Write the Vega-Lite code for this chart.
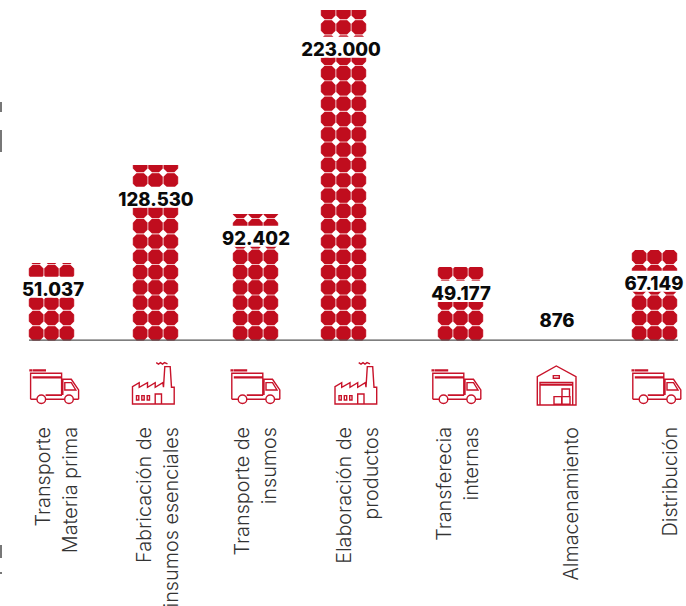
{"$schema":"https://vega.github.io/schema/vega-lite/v6.json","width":686,"height":606,"padding":0,"autosize":"none","background":"white","config":{"view":{"stroke":null}},
"datasets":{"cats":[
{"slot":1,"name":"Transporte\nMateria prima","label":"51.037","icon":"truck","top":4.59,"labelRow":2.9},
{"slot":2,"name":"Fabricación de\ninsumos esenciales","label":"128.530","icon":"factory","top":11,"labelRow":8.78},
{"slot":3,"name":"Transporte de\ninsumos","label":"92.402","icon":"truck","top":7.8,"labelRow":6.23},
{"slot":4,"name":"Elaboración de\nproductos","label":"223.000","icon":"factory","top":21.13,"labelRow":18.58},
{"slot":5,"name":"Transferecia\ninternas","label":"49.177","icon":"truck","top":4.33,"labelRow":2.63},
{"slot":6,"name":"Almacenamiento","label":"876","icon":"warehouse","top":0,"labelRow":0.87},
{"slot":7,"name":"Distribución","label":"67.149","icon":"truck","top":5.45,"labelRow":3.29}],
"dots":[
{"slot":1,"col":1,"row":0},{"slot":1,"col":2,"row":0},{"slot":1,"col":3,"row":0},{"slot":1,"col":1,"row":1},{"slot":1,"col":2,"row":1},{"slot":1,"col":3,"row":1},{"slot":1,"col":1,"row":2},{"slot":1,"col":2,"row":2},{"slot":1,"col":3,"row":2},{"slot":1,"col":1,"row":3},{"slot":1,"col":2,"row":3},{"slot":1,"col":3,"row":3},{"slot":1,"col":1,"row":4},{"slot":1,"col":2,"row":4},{"slot":1,"col":3,"row":4},{"slot":1,"col":1,"row":5},{"slot":1,"col":2,"row":5},{"slot":1,"col":3,"row":5},
{"slot":2,"col":1,"row":0},{"slot":2,"col":2,"row":0},{"slot":2,"col":3,"row":0},{"slot":2,"col":1,"row":1},{"slot":2,"col":2,"row":1},{"slot":2,"col":3,"row":1},{"slot":2,"col":1,"row":2},{"slot":2,"col":2,"row":2},{"slot":2,"col":3,"row":2},{"slot":2,"col":1,"row":3},{"slot":2,"col":2,"row":3},{"slot":2,"col":3,"row":3},{"slot":2,"col":1,"row":4},{"slot":2,"col":2,"row":4},{"slot":2,"col":3,"row":4},{"slot":2,"col":1,"row":5},{"slot":2,"col":2,"row":5},{"slot":2,"col":3,"row":5},{"slot":2,"col":1,"row":6},{"slot":2,"col":2,"row":6},{"slot":2,"col":3,"row":6},{"slot":2,"col":1,"row":7},{"slot":2,"col":2,"row":7},{"slot":2,"col":3,"row":7},{"slot":2,"col":1,"row":8},{"slot":2,"col":2,"row":8},{"slot":2,"col":3,"row":8},{"slot":2,"col":1,"row":9},{"slot":2,"col":2,"row":9},{"slot":2,"col":3,"row":9},{"slot":2,"col":1,"row":10},{"slot":2,"col":2,"row":10},{"slot":2,"col":3,"row":10},{"slot":2,"col":1,"row":11},{"slot":2,"col":2,"row":11},{"slot":2,"col":3,"row":11},
{"slot":3,"col":1,"row":0},{"slot":3,"col":2,"row":0},{"slot":3,"col":3,"row":0},{"slot":3,"col":1,"row":1},{"slot":3,"col":2,"row":1},{"slot":3,"col":3,"row":1},{"slot":3,"col":1,"row":2},{"slot":3,"col":2,"row":2},{"slot":3,"col":3,"row":2},{"slot":3,"col":1,"row":3},{"slot":3,"col":2,"row":3},{"slot":3,"col":3,"row":3},{"slot":3,"col":1,"row":4},{"slot":3,"col":2,"row":4},{"slot":3,"col":3,"row":4},{"slot":3,"col":1,"row":5},{"slot":3,"col":2,"row":5},{"slot":3,"col":3,"row":5},{"slot":3,"col":1,"row":6},{"slot":3,"col":2,"row":6},{"slot":3,"col":3,"row":6},{"slot":3,"col":1,"row":7},{"slot":3,"col":2,"row":7},{"slot":3,"col":3,"row":7},{"slot":3,"col":1,"row":8},{"slot":3,"col":2,"row":8},{"slot":3,"col":3,"row":8},
{"slot":4,"col":1,"row":0},{"slot":4,"col":2,"row":0},{"slot":4,"col":3,"row":0},{"slot":4,"col":1,"row":1},{"slot":4,"col":2,"row":1},{"slot":4,"col":3,"row":1},{"slot":4,"col":1,"row":2},{"slot":4,"col":2,"row":2},{"slot":4,"col":3,"row":2},{"slot":4,"col":1,"row":3},{"slot":4,"col":2,"row":3},{"slot":4,"col":3,"row":3},{"slot":4,"col":1,"row":4},{"slot":4,"col":2,"row":4},{"slot":4,"col":3,"row":4},{"slot":4,"col":1,"row":5},{"slot":4,"col":2,"row":5},{"slot":4,"col":3,"row":5},{"slot":4,"col":1,"row":6},{"slot":4,"col":2,"row":6},{"slot":4,"col":3,"row":6},{"slot":4,"col":1,"row":7},{"slot":4,"col":2,"row":7},{"slot":4,"col":3,"row":7},{"slot":4,"col":1,"row":8},{"slot":4,"col":2,"row":8},{"slot":4,"col":3,"row":8},{"slot":4,"col":1,"row":9},{"slot":4,"col":2,"row":9},{"slot":4,"col":3,"row":9},{"slot":4,"col":1,"row":10},{"slot":4,"col":2,"row":10},{"slot":4,"col":3,"row":10},{"slot":4,"col":1,"row":11},{"slot":4,"col":2,"row":11},{"slot":4,"col":3,"row":11},{"slot":4,"col":1,"row":12},{"slot":4,"col":2,"row":12},{"slot":4,"col":3,"row":12},{"slot":4,"col":1,"row":13},{"slot":4,"col":2,"row":13},{"slot":4,"col":3,"row":13},{"slot":4,"col":1,"row":14},{"slot":4,"col":2,"row":14},{"slot":4,"col":3,"row":14},{"slot":4,"col":1,"row":15},{"slot":4,"col":2,"row":15},{"slot":4,"col":3,"row":15},{"slot":4,"col":1,"row":16},{"slot":4,"col":2,"row":16},{"slot":4,"col":3,"row":16},{"slot":4,"col":1,"row":17},{"slot":4,"col":2,"row":17},{"slot":4,"col":3,"row":17},{"slot":4,"col":1,"row":18},{"slot":4,"col":2,"row":18},{"slot":4,"col":3,"row":18},{"slot":4,"col":1,"row":19},{"slot":4,"col":2,"row":19},{"slot":4,"col":3,"row":19},{"slot":4,"col":1,"row":20},{"slot":4,"col":2,"row":20},{"slot":4,"col":3,"row":20},{"slot":4,"col":1,"row":21},{"slot":4,"col":2,"row":21},{"slot":4,"col":3,"row":21},
{"slot":5,"col":1,"row":0},{"slot":5,"col":2,"row":0},{"slot":5,"col":3,"row":0},{"slot":5,"col":1,"row":1},{"slot":5,"col":2,"row":1},{"slot":5,"col":3,"row":1},{"slot":5,"col":1,"row":2},{"slot":5,"col":2,"row":2},{"slot":5,"col":3,"row":2},{"slot":5,"col":1,"row":3},{"slot":5,"col":2,"row":3},{"slot":5,"col":3,"row":3},{"slot":5,"col":1,"row":4},{"slot":5,"col":2,"row":4},{"slot":5,"col":3,"row":4},
{"slot":7,"col":1,"row":0},{"slot":7,"col":2,"row":0},{"slot":7,"col":3,"row":0},{"slot":7,"col":1,"row":1},{"slot":7,"col":2,"row":1},{"slot":7,"col":3,"row":1},{"slot":7,"col":1,"row":2},{"slot":7,"col":2,"row":2},{"slot":7,"col":3,"row":2},{"slot":7,"col":1,"row":3},{"slot":7,"col":2,"row":3},{"slot":7,"col":3,"row":3},{"slot":7,"col":1,"row":4},{"slot":7,"col":2,"row":4},{"slot":7,"col":3,"row":4},{"slot":7,"col":1,"row":5},{"slot":7,"col":2,"row":5},{"slot":7,"col":3,"row":5}]},
"resolve":{"scale":{"x":"independent"}},
"layer":[
{"data":{"name":"dots"},"transform":[{"calculate":"datum.slot*10+datum.col","as":"cell"}],"mark":{"type":"point","filled":true,"opacity":1,"size":4,"color":"#eeb0b5","strokeWidth":0,"shape":"M-7.8,-3.5H-3.5V-7.8H3.5V-3.5H7.8V3.5H3.5V7.8H-3.5V3.5H-7.8Z"},
"encoding":{"x":{"field":"cell","type":"quantitative","axis":null,"scale":{"domain":[11,12,13,21,22,23,31,32,33,41,42,43,51,52,53,71,72,73],"range":[36.2,51.5,66.8,140.2,155.5,170.8,240.2,255.5,270.8,328.2,343.5,358.8,445.2,460.5,475.8,639.2,654.5,669.8],"zero":false,"nice":false}},"y":{"field":"row","type":"quantitative","axis":null,"scale":{"domain":[-17.82,21.78],"nice":false,"zero":false}}}},
{"data":{"name":"dots"},"transform":[{"calculate":"datum.slot*10+datum.col","as":"cell"}],"mark":{"type":"point","filled":true,"opacity":1,"size":4,"color":"#c00d1e","strokeWidth":0,"shape":"M-3.8,-7.1H3.8L7.1,-3.8V3.8L3.8,7.1H-3.8L-7.1,3.8V-3.8Z"},
"encoding":{"x":{"field":"cell","type":"quantitative","axis":null,"scale":{"domain":[11,12,13,21,22,23,31,32,33,41,42,43,51,52,53,71,72,73],"range":[36.2,51.5,66.8,140.2,155.5,170.8,240.2,255.5,270.8,328.2,343.5,358.8,445.2,460.5,475.8,639.2,654.5,669.8],"zero":false,"nice":false}},"y":{"field":"row","type":"quantitative"}}},
{"data":{"name":"cats"},"mark":{"type":"bar","size":50,"color":"white","orient":"vertical"},"encoding":{"x":{"field":"slot","type":"quantitative","axis":null,"scale":{"domain":[0,1,2,3,4,5,6,7,8],"range":[29,51.5,155.5,255.5,343.5,460.5,557,654.5,678],"zero":false,"nice":false}},"y":{"field":"top","type":"quantitative"},"y2":{"datum":30}}},
{"data":{"name":"cats"},"transform":[{"calculate":"datum.labelRow+0.8","as":"bandTop"},{"calculate":"datum.labelRow-0.58","as":"bandBottom"}],"mark":{"type":"bar","size":50,"color":"white","orient":"vertical"},"encoding":{"x":{"field":"slot","type":"quantitative","axis":null,"scale":{"domain":[0,1,2,3,4,5,6,7,8],"range":[29,51.5,155.5,255.5,343.5,460.5,557,654.5,678],"zero":false,"nice":false}},"y":{"field":"bandTop","type":"quantitative"},"y2":{"field":"bandBottom"}}},
{"data":{"values":[{"from":0,"to":8,"level":-0.44}]},"mark":{"type":"rule","color":"#555555","strokeWidth":1.2},"encoding":{"x":{"field":"from","type":"quantitative","axis":null,"scale":{"domain":[0,1,2,3,4,5,6,7,8],"range":[29,51.5,155.5,255.5,343.5,460.5,557,654.5,678],"zero":false,"nice":false}},"x2":{"field":"to"},"y":{"field":"level","type":"quantitative"}}},
{"data":{"values":[{"edge":0,"a":15.12,"b":14.46},{"edge":0,"a":13.29,"b":11.85},{"edge":0,"a":-13.83,"b":-14.68},{"edge":0,"a":-15.6,"b":-15.73}]},"mark":{"type":"rule","color":"#777777","strokeWidth":2},"encoding":{"x":{"field":"edge","type":"quantitative","axis":null,"scale":{"domain":[0,1],"range":[1,2],"zero":false,"nice":false}},"y":{"field":"a","type":"quantitative"},"y2":{"field":"b"}}},
{"data":{"name":"cats"},"mark":{"type":"text","font":"Inter","fontWeight":800,"fontSize":18.5,"dy":1,"stroke":"white","strokeWidth":3,"strokeJoin":"round","fill":"white"},"encoding":{"x":{"field":"slot","type":"quantitative","axis":null,"scale":{"domain":[1,2,3,4,5,6,7],"range":[53,156,256,341,461,557,654],"zero":false,"nice":false}},"y":{"field":"labelRow","type":"quantitative"},"text":{"field":"label"}}},
{"data":{"name":"cats"},"mark":{"type":"text","font":"Inter","fontWeight":800,"fontSize":18.5,"dy":1,"color":"#0a0a0a"},"encoding":{"x":{"field":"slot","type":"quantitative","axis":null,"scale":{"domain":[1,2,3,4,5,6,7],"range":[53,156,256,341,461,557,654],"zero":false,"nice":false}},"y":{"field":"labelRow","type":"quantitative"},"text":{"field":"label"}}},
{"data":{"name":"cats"},"transform":[{"calculate":"-3.44","as":"iconRow"}],"mark":{"type":"point","filled":false,"opacity":1,"size":4,"strokeWidth":1.4,"color":"#c8132a"},"encoding":{"x":{"field":"slot","type":"quantitative","axis":null,"scale":{"domain":[1,2,3,4,5,6,7],"range":[54.3,153.5,255.5,356,456.5,556.5,656.5],"zero":false,"nice":false}},"y":{"field":"iconRow","type":"quantitative"},"shape":{"field":"icon","type":"nominal","legend":null,"scale":{"domain":["truck","factory","warehouse"],"range":[
"M-24.3,-16h1.5v.8h-1.5zM-21,-16h12v.8h-12zM-8.7,13.3A4.3,4.3 0 1 1 -17.3,13.3A4.3,4.3 0 1 1 -8.7,13.3ZM19,13.3A4.3,4.3 0 1 1 10.4,13.3A4.3,4.3 0 1 1 19,13.3ZM-23.7,13.3V-12.7H7.3V9M-23.7,13.3H-17.3M-8.7,13.3H10.4M19,13.3H24.3M-21,-9H7v.8H-21zM-8,9H7v.4H-8zM8.5,9V-6.7H17L24.3,4V13.3M10.5,-3.3H17L21.5,4H10.5Z",
"M-21,18V.7L-14.3,-3.3V1.3L-6,-3.3V1.3L1.7,-3.3V1.3L9.3,-3.3L10,1.3L11.3,-19.3H16.7L18,1.3H20.7V18ZM1.7,18V8H8V18M-17,9.7h2.3v4.3h-2.3zM-11.7,9.7h2.4v4.3h-2.4zM-6.3,9.7h2.3v4.3h-2.3zM2.7,-23.3L5,-21.8L7,-23.3L9,-21.8L11,-23.3L14,-22",
"M-19.2,19V-9.3L-.2,-20L19.5,-9.3V19ZM-16.5,19V-3.5H16.2V19M-15.5,-1.5H15.5V-.8H-15.5zM-3.2,-10.3H2.8V-7.7H-3.2ZM-2.5,10.7H5.2V18.3H-2.5ZM5.5,10.7H13.5V18.3H5.5ZM5.5,3H13V10.7H5.5Z"]}}}},
{"data":{"name":"cats"},"transform":[{"calculate":"-6.12","as":"nameRow"}],"mark":{"type":"text","font":"Inter","fontWeight":300,"fontSize":19.8,"angle":270,"align":"right","baseline":"middle","lineBreak":"\n","lineHeight":27,"color":"#333333"},"encoding":{"x":{"field":"slot","type":"quantitative","axis":null,"scale":{"domain":[1,2,3,4,5,6,7],"range":[44,144.5,242.5,345,445,572,671],"zero":false,"nice":false}},"y":{"field":"nameRow","type":"quantitative"},"text":{"field":"name"}}}
]}
